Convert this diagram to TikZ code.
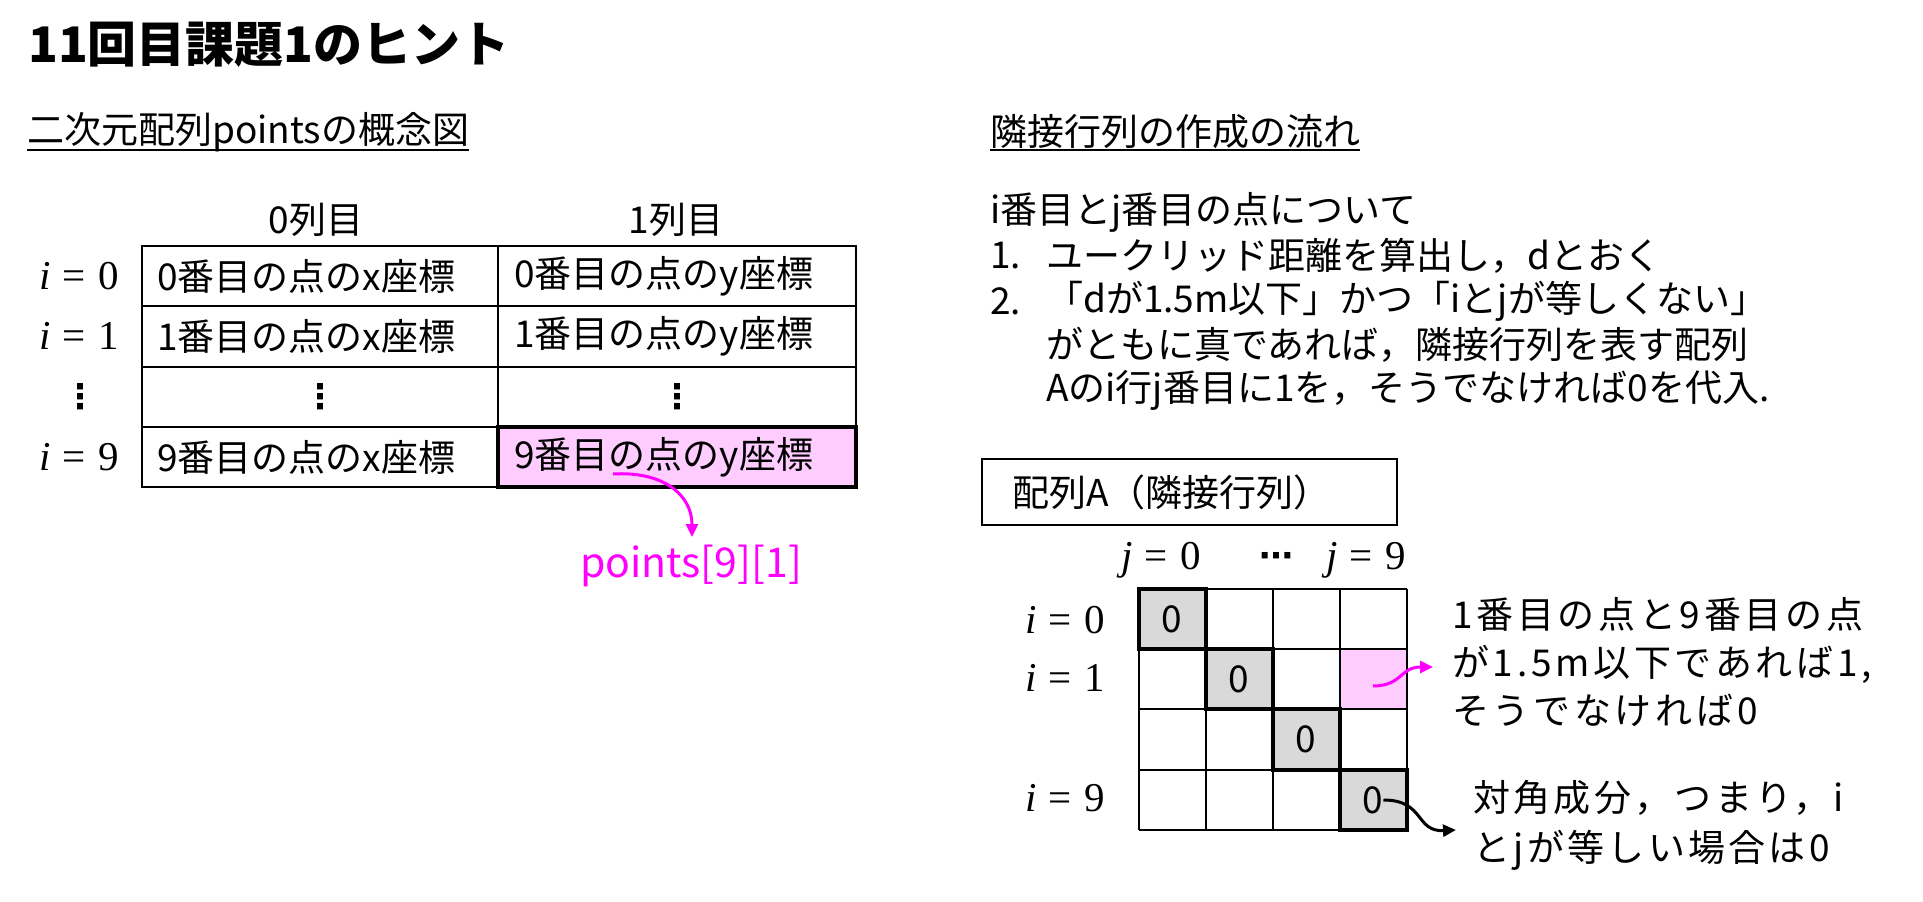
\documentclass[tikz,border=0pt]{standalone}
\usepackage{fontspec}
\setmainfont{Noto Sans CJK JP}
\newfontfamily\jpls[LetterSpace=10]{Noto Sans CJK JP}
\newfontfamily\jplt[LetterSpace=9]{Noto Sans CJK JP}
\newfontfamily\lmr{Liberation Serif}
\newfontfamily\dejavu{DejaVu Sans}
\usetikzlibrary{arrows.meta}
\definecolor{mag}{HTML}{FF00FF}
\definecolor{pinkfill}{HTML}{FFCCFF}
\definecolor{grayfill}{HTML}{D9D9D9}
\newcommand\eqlab[2]{{\lmr{\itshape #1}\hspace{0.3em}=\hspace{0.3em}#2}}
\begin{document}
\begin{tikzpicture}[x=1pt,y=-1pt,
  txt/.style={font=\fontsize{37}{44}\selectfont, inner sep=0pt, anchor=west},
  ctxt/.style={font=\fontsize{37}{44}\selectfont, inner sep=0pt},
  mth/.style={font=\fontsize{41}{48}\selectfont, inner sep=0pt},
  dts/.style={font=\dejavu\bfseries\fontsize{34}{40}\selectfont, inner sep=0pt},
  tline/.style={line width=2.5pt, black},
  gline/.style={line width=2pt, black},
  hline/.style={line width=3.2pt, black},
  uline/.style={line width=2.5pt, black},
  arr/.style={line width=3pt, -{Triangle[length=13pt,width=12pt]}},
]
\useasboundingbox (0,0) rectangle (1923,902);
\fill[white] (0,0) rectangle (1923,902);

% title and headers
\node[txt, font=\bfseries\fontsize{49}{58}\selectfont] (title) at (28,45) {11回目課題1のヒント};
\node[txt] (h1) at (27,132) {二次元配列pointsの概念図};
\node[txt] (h2) at (990,132) {隣接行列の作成の流れ};
\coordinate (ul) at (0,150);
\draw[uline] (h1.west |- ul) -- (h1.east |- ul);
\draw[uline] (h2.west |- ul) -- (h2.east |- ul);

% left table
\fill[pinkfill] (498,427) rectangle (856,487);
\draw[tline] (142,246) rectangle (856,487);
\foreach \yy in {306,367,427} \draw[tline] (142,\yy) -- (856,\yy);
\draw[tline] (498,246) -- (498,487);
\draw[hline] (498,427) rectangle (856,487);

\node[ctxt] (c0) at (316,220) {0列目};
\node[ctxt] (c1) at (676,220) {1列目};

\node[mth, anchor=east] (r0) at (119,276) {\eqlab{i}{0}};
\node[mth, anchor=east] (r1) at (119,336) {\eqlab{i}{1}};
\node[dts] (rd) at (80,397) {⋮};
\node[mth, anchor=east] (r9) at (119,457) {\eqlab{i}{9}};

\node[txt] (t00) at (157,276) {0番目の点のx座標};
\node[txt] (t01) at (514,276) {0番目の点のy座標};
\node[txt] (t10) at (157,336) {1番目の点のx座標};
\node[txt] (t11) at (514,336) {1番目の点のy座標};
\node[dts] (td0) at (320,397) {⋮};
\node[dts] (td1) at (677,397) {⋮};
\node[txt] (t90) at (157,457) {9番目の点のx座標};
\node[txt] (t91) at (514,457) {9番目の点のy座標};

\node[ctxt, text=mag, font=\fontsize{41}{48}\selectfont] (pts) at (691,566) {points[9][1]};
\coordinate (a1s) at (613,474);
\coordinate (a1e) at (692,537);
\draw[arr, mag] (a1s) .. controls (662,471) and (692,494) .. (a1e);

% right text
\node[txt] (l0) at (990,212) {i番目とj番目の点について};
\node[txt] (n1) at (990,256) {1.};
\node[txt] (l1) at (1046,256) {ユークリッド距離を算出し，dとおく};
\node[txt] (n2) at (990,301) {2.};
\node[txt] (l2a) at (1046,301) {「dが1.5m以下」かつ「iとjが等しくない」};
\node[txt] (l2b) at (1046,345) {がともに真であれば，隣接行列を表す配列};
\node[txt] (l2c) at (1046,390) {Aのi行j番目に1を，そうでなければ0を代入.};

% box
\draw[gline] (982,459) rectangle (1397,525);
\node[txt] (boxlabel) at (1012,492) {配列A（隣接行列）};

% grid
\fill[grayfill] (1139,589) rectangle (1206,649);
\fill[grayfill] (1206,649) rectangle (1273,709);
\fill[grayfill] (1273,709) rectangle (1340,770);
\fill[grayfill] (1340,770) rectangle (1407,830);
\fill[pinkfill] (1340,649) rectangle (1407,709);
\foreach \xx in {1139,1206,1273,1340,1407} \draw[gline] (\xx,589) -- (\xx,830);
\foreach \yy in {589,649,709,770,830} \draw[gline] (1139,\yy) -- (1407,\yy);
\draw[hline] (1139,589) rectangle (1206,649);
\draw[hline] (1206,649) rectangle (1273,709);
\draw[hline] (1273,709) rectangle (1340,770);
\draw[hline] (1340,770) rectangle (1407,830);

\node[ctxt] (z0) at (1172,619) {0};
\node[ctxt] (z1) at (1239,679) {0};
\node[ctxt] (z2) at (1306,739) {0};
\node[ctxt] (z3) at (1373,800) {0};

\node[mth] (j0) at (1161,560) {\eqlab{j}{0}};
\node[dts] (jd) at (1276,560) {⋯};
\node[mth] (j9) at (1366,560) {\eqlab{j}{9}};
\node[mth, anchor=east] (ri0) at (1105,620) {\eqlab{i}{0}};
\node[mth, anchor=east] (ri1) at (1105,678) {\eqlab{i}{1}};
\node[mth, anchor=east] (ri9) at (1105,798) {\eqlab{i}{9}};

\node[txt, align=left, font=\jpls\fontsize{37}{48}\selectfont] (note1) at (1452,662)
  {1番目の点と9番目の点\\が1.5m以下であれば1,\\そうでなければ0};
\node[txt, align=left, font=\jplt\fontsize{37}{50}\selectfont] (note2) at (1473,825)
  {対角成分，つまり，i\\とjが等しい場合は0};

\coordinate (a2s) at (1373,686);
\coordinate (a2e) at (1433,667);
\coordinate (a3e) at (1456,830);
\draw[arr, mag] (a2s) .. controls (1402,686) and (1400,667) .. (a2e);
\draw[arr, black] (z3.east) .. controls (1425,800) and (1415,832) .. (a3e);
\end{tikzpicture}
\end{document}
